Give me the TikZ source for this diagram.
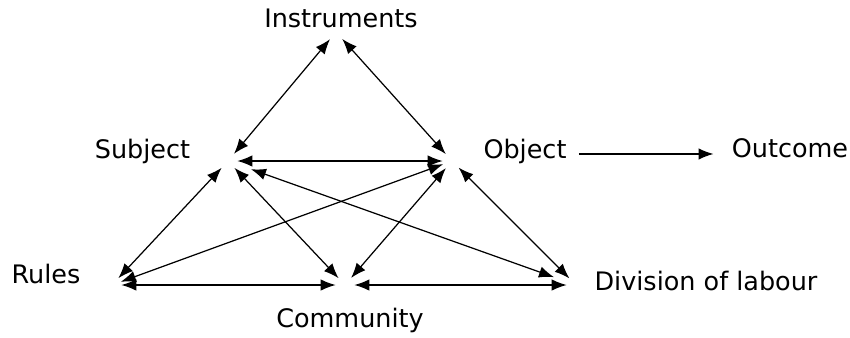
\documentclass[tikz,border=0pt]{standalone}
\usepackage{fontspec}
\setmainfont{DejaVu Sans}
\usetikzlibrary{arrows.meta}

\begin{document}
\begin{tikzpicture}[
    vtx/.style = {circle, minimum size=0.36cm, inner sep=0pt},
    lbl/.style = {anchor=base, inner sep=0pt, font=\fontsize{14.5}{17}\selectfont},
    link/.style = {{Latex[length=0.3cm, width=0.23cm]}-{Latex[length=0.3cm, width=0.23cm]}, line width=0.7pt},
    ]
    \useasboundingbox (0,0) rectangle (17,6.74);

    % corners where the arrows meet
    \node[vtx] (I) at (6.72, 6.10) {};
    \node[vtx] (S) at (4.56, 3.52) {};
    \node[vtx] (O) at (9.04, 3.52) {};
    \node[vtx] (R) at (2.24, 1.04) {};
    \node[vtx] (C) at (6.90, 1.04) {};
    \node[vtx] (D) at (11.52, 1.04) {};

    % texts
    \node[lbl] (Ins) at (6.82, 6.20) {Instruments};
    \node[lbl] (Sub) at (2.85, 3.58) {Subject};
    \node[lbl] (Obj) at (10.50, 3.58) {Object};
    \node[lbl] (Out) at (15.80, 3.60) {Outcome};
    \node[lbl] (Rul) at (0.92, 1.08) {Rules};
    \node[lbl] (Com) at (7.00, 0.20) {Community};
    \node[lbl] (Div) at (14.12, 0.94) {Division of labour};

    \foreach \a/\b in {I/S, I/O, S/O, S/R, S/C, O/R, O/C, O/D, R/C, C/D} {
        \draw[link] (\a) -- (\b);
    }
    \draw[link, shorten <=0.3cm, shorten >=0.28cm] (S) -- (D);

    \draw[-{Latex[length=0.3cm, width=0.23cm]}, line width=0.7pt, shorten <=0.24cm, shorten >=0.36cm]
        ([yshift=-0.06cm]Obj.east) -- ([yshift=-0.06cm]Obj.east -| Out.west);
\end{tikzpicture}
\end{document}
